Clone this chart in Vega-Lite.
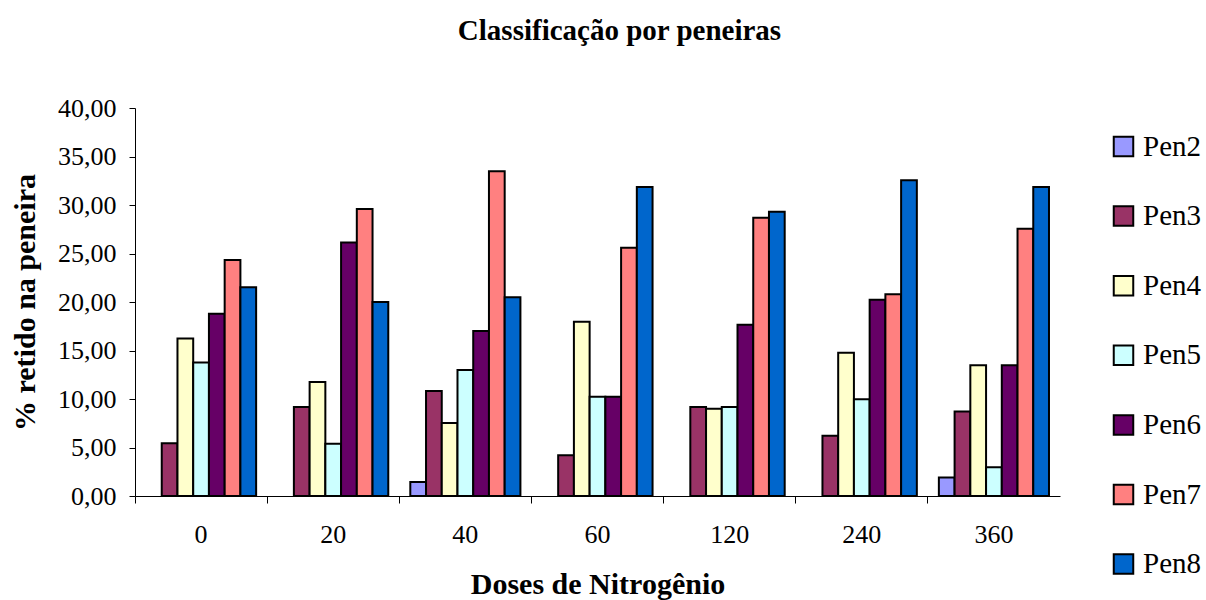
{
  "$schema": "https://vega.github.io/schema/vega-lite/v6.json",
  "autosize": "none",
  "width": 925,
  "height": 388,
  "padding": {"left": 135, "top": 108, "right": 146, "bottom": 104},
  "background": "white",
  "title": {
    "text": "Classificação por peneiras",
    "anchor": "middle",
    "dx": 22,
    "offset": 49
  },
  "data": {
    "values": [
      {"dose": "0", "pen": "Pen3", "v": 5.45},
      {"dose": "0", "pen": "Pen4", "v": 16.24},
      {"dose": "0", "pen": "Pen5", "v": 13.76},
      {"dose": "0", "pen": "Pen6", "v": 18.79},
      {"dose": "0", "pen": "Pen7", "v": 24.34},
      {"dose": "0", "pen": "Pen8", "v": 21.52},
      {"dose": "20", "pen": "Pen3", "v": 9.17},
      {"dose": "20", "pen": "Pen4", "v": 11.76},
      {"dose": "20", "pen": "Pen5", "v": 5.38},
      {"dose": "20", "pen": "Pen6", "v": 26.14},
      {"dose": "20", "pen": "Pen7", "v": 29.59},
      {"dose": "20", "pen": "Pen8", "v": 20.0},
      {"dose": "40", "pen": "Pen2", "v": 1.45},
      {"dose": "40", "pen": "Pen3", "v": 10.83},
      {"dose": "40", "pen": "Pen4", "v": 7.52},
      {"dose": "40", "pen": "Pen5", "v": 13.0},
      {"dose": "40", "pen": "Pen6", "v": 17.0},
      {"dose": "40", "pen": "Pen7", "v": 33.48},
      {"dose": "40", "pen": "Pen8", "v": 20.48},
      {"dose": "60", "pen": "Pen3", "v": 4.21},
      {"dose": "60", "pen": "Pen4", "v": 17.97},
      {"dose": "60", "pen": "Pen5", "v": 10.24},
      {"dose": "60", "pen": "Pen6", "v": 10.24},
      {"dose": "60", "pen": "Pen7", "v": 25.59},
      {"dose": "60", "pen": "Pen8", "v": 31.86},
      {"dose": "120", "pen": "Pen3", "v": 9.17},
      {"dose": "120", "pen": "Pen4", "v": 9.0},
      {"dose": "120", "pen": "Pen5", "v": 9.17},
      {"dose": "120", "pen": "Pen6", "v": 17.66},
      {"dose": "120", "pen": "Pen7", "v": 28.69},
      {"dose": "120", "pen": "Pen8", "v": 29.31},
      {"dose": "240", "pen": "Pen3", "v": 6.21},
      {"dose": "240", "pen": "Pen4", "v": 14.76},
      {"dose": "240", "pen": "Pen5", "v": 9.97},
      {"dose": "240", "pen": "Pen6", "v": 20.24},
      {"dose": "240", "pen": "Pen7", "v": 20.79},
      {"dose": "240", "pen": "Pen8", "v": 32.55},
      {"dose": "360", "pen": "Pen2", "v": 1.9},
      {"dose": "360", "pen": "Pen3", "v": 8.72},
      {"dose": "360", "pen": "Pen4", "v": 13.48},
      {"dose": "360", "pen": "Pen5", "v": 2.97},
      {"dose": "360", "pen": "Pen6", "v": 13.48},
      {"dose": "360", "pen": "Pen7", "v": 27.55},
      {"dose": "360", "pen": "Pen8", "v": 31.86}
    ]
  },
  "mark": {"type": "bar", "stroke": "black", "strokeWidth": 2, "opacity": 1},
  "encoding": {
    "x": {
      "field": "dose",
      "type": "nominal",
      "sort": ["0", "20", "40", "60", "120", "240", "360"],
      "scale": {"paddingInner": 0, "paddingOuter": 0},
      "axis": {
        "title": "Doses de Nitrogênio",
        "labelAngle": 0,
        "bandPosition": 0,
        "labelFontSize": 26,
        "labelPadding": 18,
        "tickSize": 7,
        "titleFontSize": 30,
        "titlePadding": 22,
        "grid": false
      }
    },
    "xOffset": {
      "field": "pen",
      "type": "nominal",
      "sort": ["Pen2", "Pen3", "Pen4", "Pen5", "Pen6", "Pen7", "Pen8"],
      "scale": {"paddingInner": 0, "paddingOuter": 0.7}
    },
    "y": {
      "field": "v",
      "type": "quantitative",
      "scale": {"domain": [0, 40], "nice": false},
      "axis": {
        "title": "%  retido na peneira",
        "values": [0, 5, 10, 15, 20, 25, 30, 35, 40],
        "labelExpr": "replace(format(datum.value, '.2f'), '.', ',')",
        "labelFontSize": 26,
        "labelPadding": 13,
        "tickSize": 6,
        "grid": false,
        "titleFontSize": 30,
        "titlePadding": 17
      }
    },
    "color": {
      "field": "pen",
      "type": "nominal",
      "scale": {
        "domain": ["Pen2", "Pen3", "Pen4", "Pen5", "Pen6", "Pen7", "Pen8"],
        "range": ["#9999FF", "#993366", "#FFFFCC", "#CCFFFF", "#660066", "#FF8080", "#0066CC"]
      },
      "legend": {
        "title": null,
        "orient": "none",
        "legendX": 974,
        "legendY": 24,
        "symbolType": "square",
        "symbolSize": 380,
        "symbolStrokeColor": "black",
        "symbolStrokeWidth": 2,
        "symbolOpacity": 1,
        "labelFontSize": 29,
        "labelOffset": 5,
        "rowPadding": 39.6
      }
    }
  },
  "config": {
    "font": "Liberation Serif",
    "view": {"stroke": null},
    "title": {"font": "Liberation Serif", "fontSize": 29, "fontWeight": "bold", "color": "black"},
    "axis": {
      "labelFont": "Liberation Serif",
      "titleFont": "Liberation Serif",
      "labelColor": "black",
      "titleColor": "black",
      "titleFontWeight": "bold",
      "tickColor": "black",
      "domainColor": "black"
    },
    "legend": {"labelFont": "Liberation Serif", "labelColor": "black"}
  }
}
